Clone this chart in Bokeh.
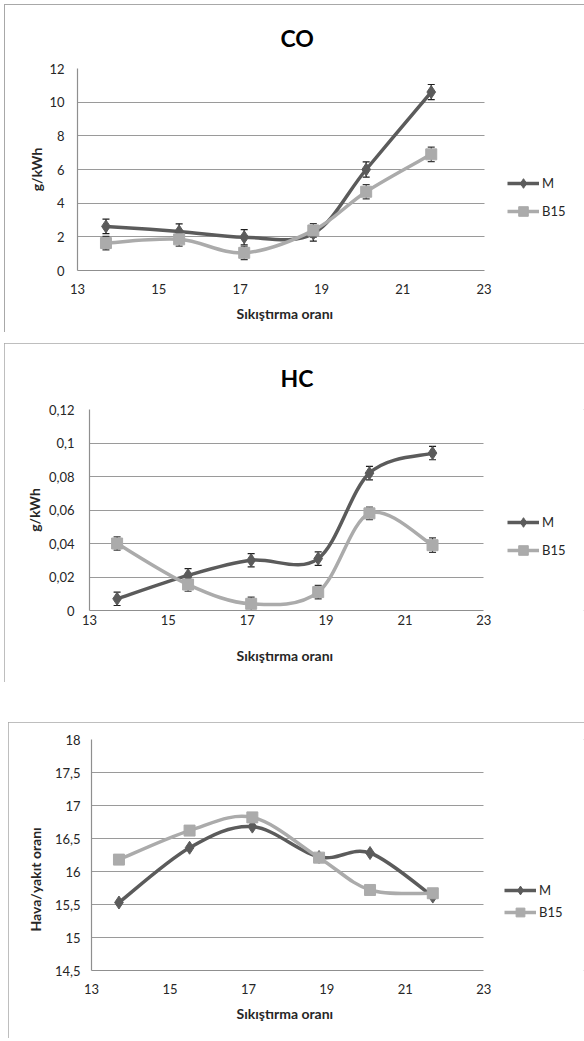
import numpy as np
from bokeh.plotting import figure
from bokeh.models import (ColumnDataSource, FixedTicker, Whisker, TeeHead, Legend,
                          LegendItem, Range1d, Title, Grid)
from bokeh.embed import file_html
from bokeh.resources import INLINE

FONT = "Lato"

# ---------------- data ----------------
x_ratio = [13.7, 15.5, 17.1, 18.8, 20.1, 21.7]
x_ticks = [13, 15, 17, 19, 21, 23]
x_label = "Sıkıştırma oranı"

co_m = [2.62, 2.32, 1.98, 2.20, 6.0, 10.6]
co_b15 = [1.63, 1.85, 1.05, 2.38, 4.68, 6.9]
co_m_err = [0.43, 0.45, 0.45, 0.45, 0.45, 0.45]
co_b15_err = [0.40, 0.40, 0.40, 0.40, 0.42, 0.43]
co_ticks = [0, 2, 4, 6, 8, 10, 12]
co_tick_labels = ["0", "2", "4", "6", "8", "10", "12"]

hc_m = [0.007, 0.021, 0.030, 0.031, 0.082, 0.094]
hc_b15 = [0.040, 0.0155, 0.004, 0.011, 0.058, 0.039]
hc_m_err = [0.004, 0.004, 0.004, 0.004, 0.004, 0.004]
hc_b15_err = [0.004, 0.004, 0.004, 0.004, 0.0037, 0.0043]
hc_ticks = [0, 0.02, 0.04, 0.06, 0.08, 0.1, 0.12]
hc_tick_labels = ["0", "0,02", "0,04", "0,06", "0,08", "0,1", "0,12"]

afr_m = [15.53, 16.36, 16.68, 16.22, 16.28, 15.62]
afr_b15 = [16.18, 16.62, 16.82, 16.21, 15.72, 15.67]
afr_ticks = [14.5, 15, 15.5, 16, 16.5, 17, 17.5, 18]
afr_tick_labels = ["14,5", "15", "15,5", "16", "16,5", "17", "17,5", "18"]

# ---------------- style ----------------
M_COLOR = "#5b5b5b"
B_COLOR = "#ababab"
GRID = "#9a9a9a"
AXIS = "#8f8f8f"
TEXT = "#262626"
X0, X1 = x_ticks[0], x_ticks[-1]


def smooth(xs, ys):
    """Bezier control points of an Excel-like smoothed line through the data."""
    xs = np.asarray(xs, float)
    ys = np.asarray(ys, float)
    n = len(xs)
    xp = np.concatenate([[xs[0]], xs, [xs[-1]]])
    yp = np.concatenate([[ys[0]], ys, [ys[-1]]])
    return dict(
        x0=xs[:-1], y0=ys[:-1], x1=xs[1:], y1=ys[1:],
        cx0=xs[:-1] + (xp[2:n + 1] - xp[0:n - 1]) / 6.0,
        cy0=ys[:-1] + (yp[2:n + 1] - yp[0:n - 1]) / 6.0,
        cx1=xs[1:] - (xp[3:n + 2] - xp[1:n]) / 6.0,
        cy1=ys[1:] - (yp[3:n + 2] - yp[1:n]) / 6.0,
    )


def panel(width, height, plot_w, yrange, yticks, ylabels, borders, title, ytitle,
          series, errors, legend_loc, legend_gh, legend_sp, x_standoff,
          y_standoff, xt_offset, xt_standoff, yt_standoff, yt_offset,
          title_offset, title_standoff):
    mbl, mbt, mbb = borders
    frame_w = width - mbl
    # the frame reaches the right edge so that the legend can sit in it
    x_end = X0 + (X1 - X0) * frame_w / plot_w
    p = figure(width=width, height=height, x_range=Range1d(X0, x_end),
               y_range=Range1d(*yrange), output_backend="svg",
               toolbar_location=None, min_border_left=mbl,
               min_border_right=0, min_border_top=mbt, min_border_bottom=mbb)
    p.outline_line_color = None
    p.background_fill_color = "white"
    p.border_fill_color = "white"
    p.xgrid.visible = False
    if "cross_bounds" in Grid.properties():
        p.ygrid.ticker = FixedTicker(ticks=yticks)
        p.ygrid.grid_line_color = GRID
        p.ygrid.grid_line_width = 1.2
        p.ygrid.cross_bounds = (X0, X1)
    else:
        p.ygrid.visible = False
        p.segment(x0=[X0] * len(yticks), x1=[X1] * len(yticks), y0=yticks,
                  y1=yticks, line_color=GRID, line_width=1.2, level="underlay")

    for ax in (p.xaxis[0], p.yaxis[0]):
        ax.axis_line_color = AXIS
        ax.axis_line_width = 1.2
        ax.major_tick_line_color = None
        ax.minor_tick_line_color = None
        ax.major_tick_out = 0
        ax.major_tick_in = 0
        ax.major_label_text_font = FONT
        ax.major_label_text_font_size = "13px"
        ax.major_label_text_color = TEXT
    p.xaxis.ticker = FixedTicker(ticks=x_ticks)
    p.xaxis.bounds = (X0, X1)
    p.xaxis.major_label_standoff = x_standoff
    p.yaxis.ticker = FixedTicker(ticks=yticks)
    p.yaxis.major_label_overrides = {t: l for t, l in zip(yticks, ylabels)}
    p.yaxis.major_label_standoff = y_standoff

    items = []
    for (name, ys, color, marker, msize), err in zip(series, errors):
        if err is not None:
            esrc = ColumnDataSource(dict(
                x=x_ratio,
                upper=[a + b for a, b in zip(ys, err[0])],
                lower=[a - b for a, b in zip(ys, err[0])]))
            ecol = err[1]
            w = Whisker(source=esrc, base="x", upper="upper", lower="lower",
                        line_color=ecol, line_width=1.2,
                        upper_head=TeeHead(size=7, line_color=ecol, line_width=1.2),
                        lower_head=TeeHead(size=7, line_color=ecol, line_width=1.2))
            p.add_layout(w)
        bz = p.bezier(source=ColumnDataSource(smooth(x_ratio, ys)),
                      x0="x0", y0="y0", x1="x1", y1="y1",
                      cx0="cx0", cy0="cy0", cx1="cx1", cy1="cy1",
                      line_color=color, line_width=3.5)
        sc = p.scatter(x_ratio, ys, marker=marker, size=msize, fill_color=color,
                       line_color=color)
        items.append(LegendItem(label=name, renderers=[bz, sc]))

    leg = Legend(items=items, location=legend_loc, glyph_width=32,
                 glyph_height=legend_gh, label_height=legend_gh,
                 spacing=legend_sp, padding=0, margin=0, label_standoff=3,
                 border_line_color=None, background_fill_alpha=0,
                 label_text_font=FONT, label_text_font_size="13px",
                 label_text_color=TEXT)
    p.add_layout(leg, "center")

    p.add_layout(Title(text=x_label, align="left", offset=xt_offset,
                       standoff=xt_standoff, text_font=FONT,
                       text_font_size="14px", text_font_style="bold",
                       text_color=TEXT), "below")
    if yt_offset is None:
        ytl = Title(text=ytitle, align="center", standoff=yt_standoff)
    else:
        ytl = Title(text=ytitle, align="left", offset=yt_offset,
                    standoff=yt_standoff)
    ytl.text_font = FONT
    ytl.text_font_size = "14px"
    ytl.text_font_style = "bold"
    ytl.text_color = TEXT
    p.add_layout(ytl, "left")

    if title:
        p.title.text = title
        p.title.align = "left"
        p.title.text_font = FONT
        p.title.text_font_size = "23px"
        p.title.text_font_style = "bold"
        p.title.text_color = "black"
        p.title.offset = title_offset
        p.title.standoff = title_standoff
    return p


def series(m, b):
    return [("M", m, M_COLOR, "diamond", 13), ("B15", b, B_COLOR, "square", 11)]


p1 = panel(580, 328, 406.6, (0, 12), co_ticks, co_tick_labels, (73, 64, 62), "CO",
           "g/kWh", series(co_m, co_b15),
           [(co_m_err, "#1e1e1e"), (co_b15_err, "#3a3a3a")],
           (430, 47), 24, 4, 13, 13, 159, 13, 4, None, 203, 33)
p2 = panel(580, 339, 394.3, (0, 0.12), hc_ticks, hc_tick_labels, (85, 66, 72), "HC",
           "g/kWh", series(hc_m, hc_b15),
           [(hc_m_err, "#1e1e1e"), (hc_b15_err, "#3a3a3a")],
           (418, 48), 24, 4, 4, 15, 147, 34, 5, None, 191, 35)
p3 = panel(576, 316, 392.3, (14.5, 18), afr_ticks, afr_tick_labels, (83, 17, 68), None,
           "Hava/yakıt oranı", series(afr_m, afr_b15), [None, None],
           (413, 47), 22, 0, 13, 11, 145, 13, 16, 39, 0, 0)

# panel frames (the first one shows only its top and left edges)
p1.border_fill_color = None
p1.styles = {"box-shadow": "inset 1px 1px 0 #a8a8a8"}
p2.styles = {"outline": "1px solid #a8a8a8", "outline-offset": "-1px"}
p3.styles = {"outline": "1px solid #a8a8a8", "outline-offset": "-1px"}

p1.margin = (4, 0, 0, 4)
p2.margin = (11, 0, 0, 4)
p3.margin = (40, 0, 0, 8)

open("out.html", "w").write(file_html([p1, p2, p3], INLINE))
